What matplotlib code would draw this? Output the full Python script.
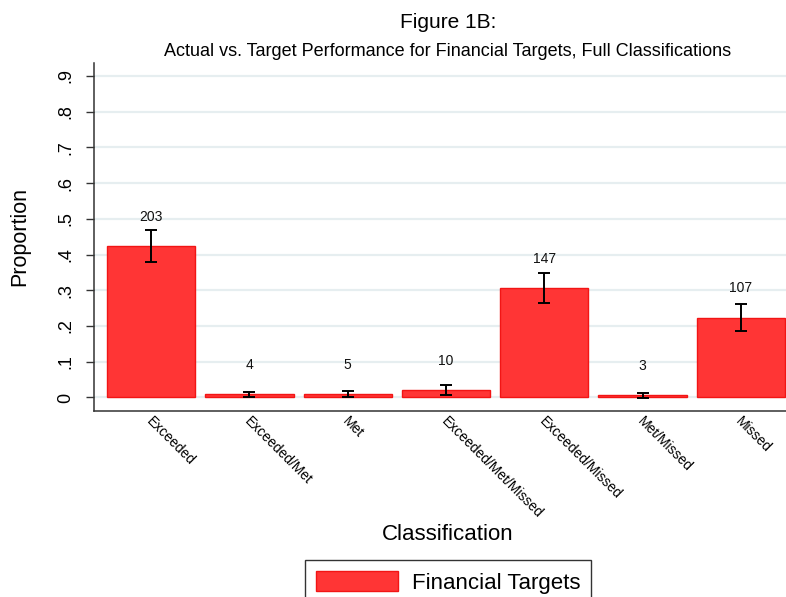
import matplotlib
matplotlib.use("Agg")
import matplotlib.pyplot as plt
import matplotlib.transforms as mtransforms
import numpy as np

plt.rcParams['font.family'] = ['Liberation Sans', 'DejaVu Sans']

categories = ["Exceeded", "Exceeded/Met", "Met", "Exceeded/Met/Missed",
              "Exceeded/Missed", "Met/Missed", "Missed"]
counts = [203, 4, 5, 10, 147, 3, 107]
proportions = [0.4238, 0.0084, 0.0104, 0.0209, 0.3069, 0.0063, 0.2234]
ci_low = [0.3796, 0.0002, 0.0013, 0.0081, 0.2656, -0.0008, 0.1861]
ci_high = [0.4680, 0.0165, 0.0195, 0.0337, 0.3482, 0.0133, 0.2607]
yticks = [0, 0.1, 0.2, 0.3, 0.4, 0.5, 0.6, 0.7, 0.8, 0.9]
yticklabels = ["0", ".1", ".2", ".3", ".4", ".5", ".6", ".7", ".8", ".9"]

W, H = 786, 597
fig = plt.figure(figsize=(W / 100, H / 100), dpi=100)
ax = fig.add_axes([94 / W, (H - 411) / H, 1 - 94 / W, (411 - 63) / H])

x = np.arange(len(categories))
ax.bar(x, proportions, width=0.9, color="#ff3535", edgecolor="#f21515",
       linewidth=1.0, zorder=2, label="Financial Targets")
p = np.array(proportions)
yerr = np.vstack([p - np.array(ci_low), np.array(ci_high) - p])
ax.errorbar(x, p, yerr=yerr, fmt="none", ecolor="black", elinewidth=1.4,
            capsize=4.5, capthick=1.4, zorder=3)

for xi, pi, c in zip(x, proportions, counts):
    ax.annotate(str(c), (xi, pi), xytext=(0, 21), textcoords="offset points",
                ha="center", va="center", fontsize=10, color="#111111")

ax.set_xlim(-0.582, 6.46)
ax.set_ylim(-0.0378, 0.936)
ax.set_yticks(yticks)
ax.set_yticklabels(yticklabels, rotation=90, va="center", fontsize=13)
ax.tick_params(axis="y", length=6, width=1, color="#333333", pad=8)
ax.yaxis.grid(True, color="#e6eef0", linewidth=1.6, zorder=0)
ax.set_axisbelow(True)

ax.set_xticks(x)
ax.set_xticklabels(categories, rotation=-45, ha="left", va="center",
                   rotation_mode="anchor", fontsize=10)
ax.tick_params(axis="x", length=0, pad=6)
off = mtransforms.ScaledTranslation(-2 / 72, 0, fig.dpi_scale_trans)
for lab in ax.get_xticklabels():
    lab.set_transform(lab.get_transform() + off)

for s in ["top", "right"]:
    ax.spines[s].set_visible(False)
for s in ["left", "bottom"]:
    ax.spines[s].set_color("#333333")
    ax.spines[s].set_linewidth(1.1)

ax.set_ylabel("Proportion", fontsize=15.5, va="center")
ax.yaxis.set_label_coords((20 - 94) / (W - 94), 0.5)

fig.text(448 / W, 1 - 28 / H, "Figure 1B:", ha="center", va="baseline", fontsize=15)
fig.text(448 / W, 1 - 56 / H,
         "Actual vs. Target Performance for Financial Targets, Full Classifications",
         ha="center", va="baseline", fontsize=13)
fig.text(448 / W, 1 - 535 / H, "Classification", ha="center", va="center", fontsize=16)

leg = fig.legend(loc="upper center", bbox_to_anchor=(448 / W, 1 - 560 / H),
                 fontsize=16, frameon=True, fancybox=False, edgecolor="black",
                 handlelength=3.7, handleheight=1.0, borderpad=0.5,
                 handletextpad=0.6, borderaxespad=0)
leg.get_frame().set_linewidth(1.0)

fig.savefig("out.png", dpi=100)
